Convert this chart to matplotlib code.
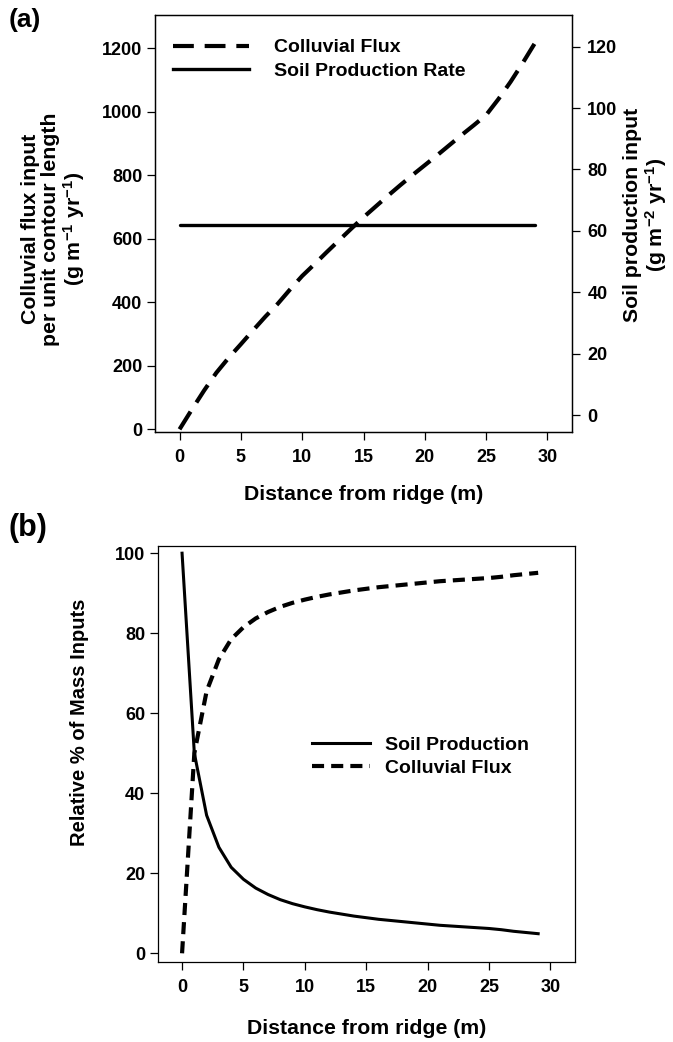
import matplotlib
matplotlib.use("Agg")
import matplotlib.pyplot as plt
from matplotlib.lines import Line2D

plt.rcParams['font.family'] = ['Liberation Sans', 'DejaVu Sans']
plt.rcParams['font.weight'] = 'bold'
plt.rcParams['mathtext.default'] = 'regular'

# panel (a): colluvial flux input and soil production rate vs distance
dist_a = [0, 1, 2, 3, 4, 5, 6, 7, 8, 9, 10, 11, 12, 13, 14, 15, 16, 17, 18, 19,
          20, 21, 22, 23, 24, 25, 26, 27, 28, 29]
colluvial_flux = [0, 62, 122, 178, 225, 268, 312, 355, 395, 440, 483, 520, 558,
                  595, 632, 668, 702, 736, 769, 801, 832, 863, 895, 927, 958,
                  990, 1040, 1095, 1155, 1218]
soil_prod_rate = [62] * len(dist_a)

# panel (b): relative % of mass inputs
dist_b = dist_a
pct_soil_prod = [100, 50, 34.5, 26.5, 21.5, 18.5, 16.3, 14.7, 13.4, 12.4, 11.6,
                 10.9, 10.3, 9.8, 9.3, 8.9, 8.5, 8.2, 7.9, 7.6, 7.3, 7.0, 6.8,
                 6.6, 6.4, 6.2, 5.9, 5.5, 5.2, 4.9]
pct_colluvial = [0, 50, 65.5, 73.5, 78.5, 81.5, 83.7, 85.3, 86.6, 87.6, 88.4,
                 89.1, 89.7, 90.2, 90.7, 91.1, 91.5, 91.8, 92.1, 92.4, 92.7,
                 93.0, 93.2, 93.4, 93.6, 93.8, 94.1, 94.5, 94.8, 95.1]

W, H = 673, 1042
fig = plt.figure(figsize=(W / 100, H / 100), dpi=100)

def box(l, t, r, b):
    return [l / W, 1 - b / H, (r - l) / W, (b - t) / H]

tick_fs = 13
leg_fs = 14
ylab_fs = 15.3

def style(ax):
    for s in ax.spines.values():
        s.set_linewidth(0.9)
    ax.tick_params(direction='out', length=6, width=0.9, labelsize=tick_fs)
    ax.tick_params(axis='x', pad=6)
    ax.tick_params(axis='y', pad=3)

dash_a = (0, (5, 2.6))
dash_b = (0, (2.9, 1.7))

# ---- (a)
ax1 = fig.add_axes(box(155, 15, 572, 432))
ax2 = ax1.twinx()
ax1.plot(dist_a, colluvial_flux, color='black', lw=3.0, ls=dash_a,
         dash_capstyle='butt')
ax2.plot(dist_a, soil_prod_rate, color='black', lw=2.4, solid_capstyle='round')
ax1.set_xlim(-2, 32)
ax1.set_ylim(-8.5, 1305)
ax2.set_ylim(-5.5, 130.3)
ax1.set_xticks(range(0, 31, 5))
ax1.set_yticks(range(0, 1201, 200))
ax2.set_yticks(range(0, 121, 20))
style(ax1)
style(ax2)
ax2.tick_params(axis='y', pad=5)
ax1.set_xlabel('Distance from ridge (m)', fontsize=15.3, fontweight='bold', va='center')
ax1.xaxis.set_label_coords(0.5, -0.149)
ax1.set_ylabel('Colluvial flux input\nper unit contour length\n(g m$^{-1}$ yr$^{-1}$)',
               fontsize=ylab_fs, fontweight='bold', va='center', linespacing=1.05)
ax1.yaxis.set_label_coords(-0.242, 0.487)
ax2.set_ylabel('Soil production input\n(g m$^{-2}$ yr$^{-1}$)',
               fontsize=ylab_fs, fontweight='bold', va='center', linespacing=1.05)
ax2.yaxis.set_label_coords(1.178, 0.52)
handles_a = [Line2D([], [], color='black', lw=3.0, ls=dash_a, dash_capstyle='butt'),
             Line2D([], [], color='black', lw=2.4)]
ax1.legend(handles_a, ['Colluvial Flux', 'Soil Production Rate'], loc='upper left',
           bbox_to_anchor=(0.043, 0.943), frameon=False, fontsize=leg_fs,
           borderpad=0, borderaxespad=0,
           handlelength=3.9, handletextpad=1.3, labelspacing=0.3)
fig.text(9 / W, 1 - 20 / H, '(a)', fontsize=19, fontweight='bold', va='center')

# ---- (b)
ax3 = fig.add_axes(box(157.5, 546, 575, 962.3))
ax3.plot(dist_b, pct_soil_prod, color='black', lw=2.2, label='Soil Production')
ax3.plot(dist_b, pct_colluvial, color='black', lw=3.0, ls=dash_b,
         dash_capstyle='butt', label='Colluvial Flux')
ax3.set_xlim(-2, 32)
ax3.set_ylim(-2.25, 101.8)
ax3.set_xticks(range(0, 31, 5))
ax3.set_yticks(range(0, 101, 20))
style(ax3)
ax3.set_xlabel('Distance from ridge (m)', fontsize=15.3, fontweight='bold', va='center')
ax3.xaxis.set_label_coords(0.5, -0.158)
ax3.set_ylabel('Relative % of Mass Inputs', fontsize=14.5, fontweight='bold', va='center')
ax3.yaxis.set_label_coords(-0.186, 0.577)
ax3.legend(loc='upper left', bbox_to_anchor=(0.37, 0.543), frameon=False,
           fontsize=leg_fs, borderpad=0, borderaxespad=0,
           handlelength=3.0, handletextpad=0.77, labelspacing=0.3)
fig.text(8 / W, 1 - 528 / H, '(b)', fontsize=22, fontweight='bold', va='center')

fig.savefig('out.png', dpi=100)
